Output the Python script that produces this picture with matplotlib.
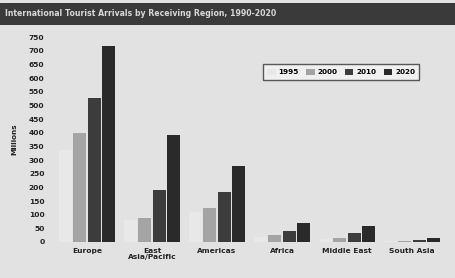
import matplotlib
matplotlib.use("Agg")
import matplotlib.pyplot as plt
import numpy as np

regions = ['Europe', 'East\nAsia/Pacific', 'Americas', 'Africa', 'Middle East', 'South Asia']
years = ['1995', '2000', '2010', '2020']
v1995 = [338, 81, 109, 20, 12, 4]
v2000 = [400, 88, 124, 26, 15, 3]
v2010 = [527, 190, 183, 40, 33, 6]
v2020 = [717, 392, 278, 70, 59, 15]
yticks = list(range(0, 751, 50))

series = [v1995, v2000, v2010, v2020]
colors = ['#e8e8e8', '#a4a4a4', '#3c3c3c', '#2a2a2a']

W, H = 455, 278
fig = plt.figure(figsize=(W / 100, H / 100), dpi=100)
bg = '#e2e2e2'
fig.patch.set_facecolor(bg)

# title band
band = fig.add_axes([0, 1 - 25 / H, 1, 22 / H])
band.set_axis_off()
band.add_patch(plt.Rectangle((0, 0), 1, 1, transform=band.transAxes, color='#3a3a3a'))
band.text(0.012, 0.5, 'International Tourist Arrivals by Receiving Region, 1990-2020',
          transform=band.transAxes, va='center', ha='left', color='#d8d8d8',
          fontsize=5.6, fontweight='bold')

# axes: left px 50, right px 445, bottom px 242, top px 37
ax = fig.add_axes([50 / W, 1 - 242 / H, 395 / W, 205 / H])
ax.set_facecolor(bg)
x = np.arange(len(regions))
step = 65
ax.set_xlim((50 - 87) / step, (445 - 87) / step)
ax.set_ylim(0, 750)
bw = 13 / step
off = 14.5 / step
for i, (vals, c, yr) in enumerate(zip(series, colors, years)):
    ax.bar(x + (i - 1.5) * off, vals, width=bw, color=c, label=yr, zorder=2)

for s in ax.spines.values():
    s.set_visible(False)
ax.set_yticks(yticks)
ax.set_yticklabels([str(t) for t in yticks], fontsize=5.4, fontweight='bold', color='#222222')
ax.tick_params(axis='y', length=0, pad=4)
ax.set_xticks(x)
ax.set_xticklabels(regions, fontsize=5.4, fontweight='bold', color='#222222', linespacing=1.1)
ax.tick_params(axis='x', length=0, pad=4)
ax.set_ylabel('Millions', fontsize=5.2, fontweight='bold', color='#222222', labelpad=8)

leg = fig.legend(loc='center', bbox_to_anchor=(341 / W, 1 - 72 / H), ncol=4,
                 frameon=True, fancybox=False, handlelength=1.2,
                 handleheight=0.9, handletextpad=0.4, columnspacing=1.0,
                 borderpad=0.6, prop={'weight': 'bold', 'size': 5.2})
leg.get_frame().set_edgecolor('#333333')
leg.get_frame().set_linewidth(1.0)
leg.get_frame().set_facecolor('#f4f4f4')

fig.savefig('out.png', dpi=100, facecolor=fig.get_facecolor())
